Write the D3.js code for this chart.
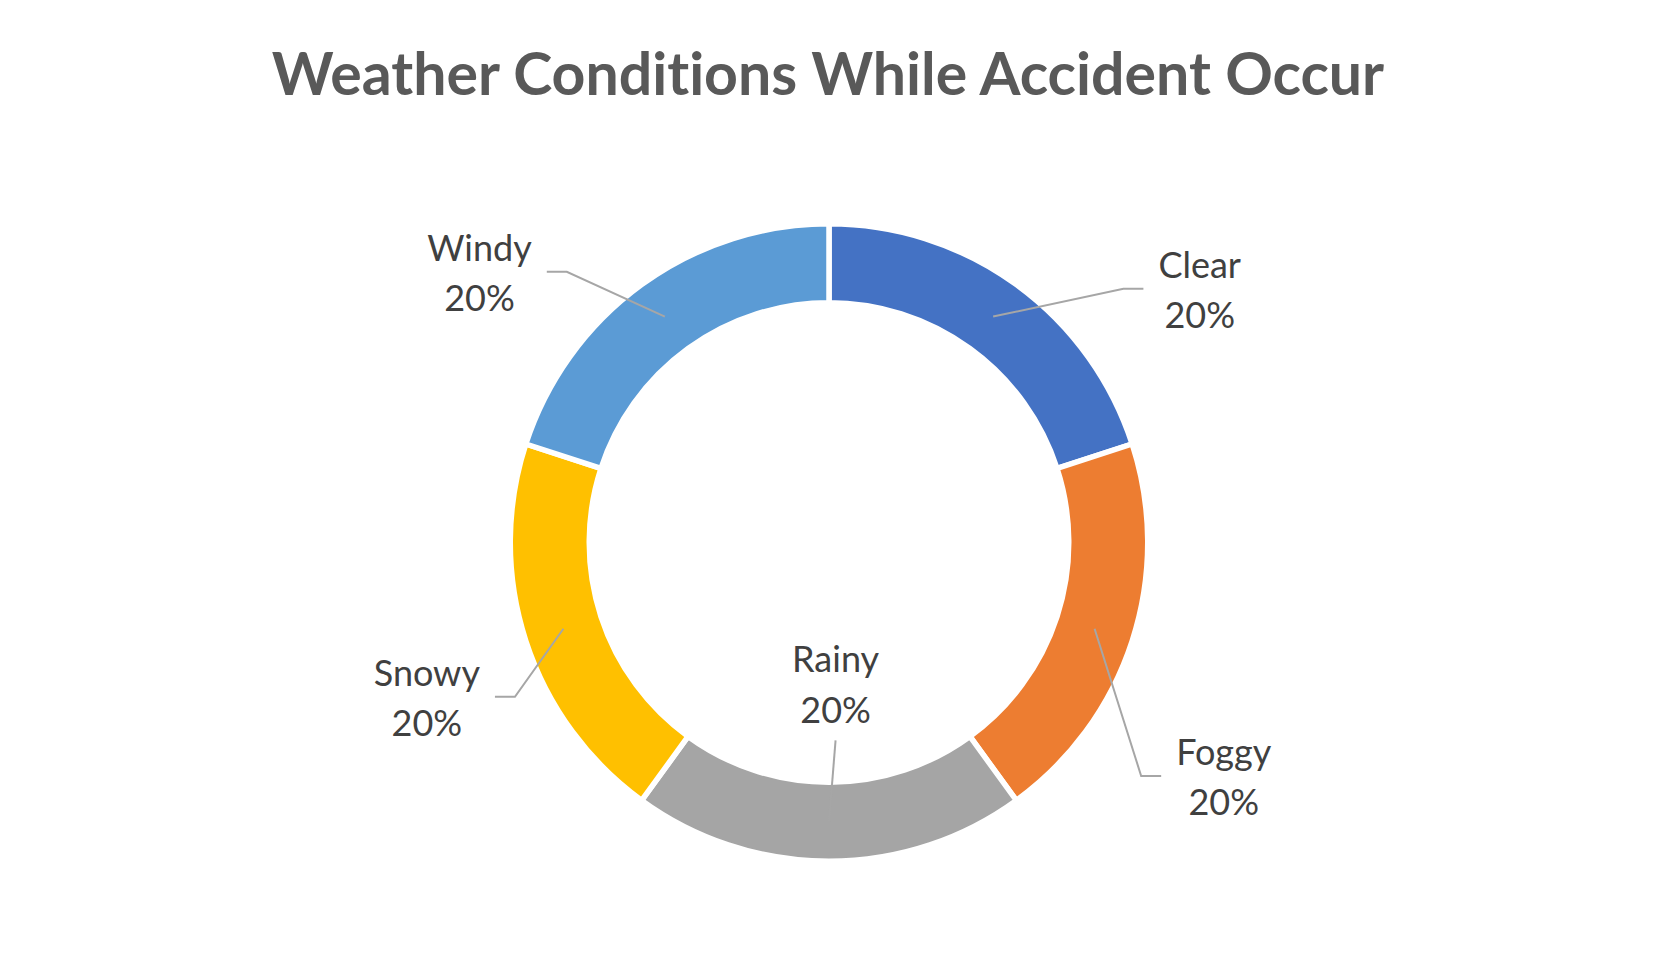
<!DOCTYPE html>
<html>
<head>
<meta charset="utf-8">
<script src="https://cdn.jsdelivr.net/npm/d3@7/dist/d3.min.js"></script>
<style>
  html, body { margin: 0; padding: 0; background: #ffffff; }
  svg { display: block; }
  text { font-variant-ligatures: none; font-feature-settings: "liga" 0; }
</style>
</head>
<body>
<svg id="chart" width="1658" height="965"></svg>
<script>
// ---- data ----
const title = "Weather Conditions While Accident Occur";
const categories = ["Clear", "Foggy", "Rainy", "Snowy", "Windy"];
const values = [20, 20, 20, 20, 20];
const colors = ["#4472C4", "#ED7D31", "#A5A5A5", "#FFC000", "#5B9BD5"];

// ---- label layout (leader-line end, polar around the centre; side of text) ----
const labelAngleDeg = [51.1, 125.1, 178.1, -114.8, -46.2];
const labelRadius   = [404, 406, 198, 368, 391];
const labelSide     = ["right", "right", "above", "left", "left"];

// ---- geometry ----
const W = 1658, H = 965;
const cx = 829, cy = 542.5;
const gap = 5.5;
const outerR = 316 + gap / 2;
const innerR = 242.5 - gap / 2;
const midR = (316 + 242.5) / 2;

const svg = d3.select("#chart");

svg.append("text")
  .attr("x", 828).attr("y", 95)
  .attr("text-anchor", "middle")
  .attr("font-family", "Lato, 'Open Sans', sans-serif")
  .attr("font-weight", 700)
  .attr("font-size", 59)
  .attr("fill", "#595959")
  .text(title);

const data = categories.map((c, i) => ({ name: c, value: values[i], color: colors[i], i }));
const total = d3.sum(values);
const pie = d3.pie().value(d => d.value).sort(null);
const arcs = pie(data);

const arc = d3.arc().innerRadius(innerR).outerRadius(outerR);
const midArc = d3.arc().innerRadius(midR).outerRadius(midR);

const g = svg.append("g").attr("transform", `translate(${cx},${cy})`);

g.selectAll("path.slice")
  .data(arcs)
  .join("path")
  .attr("class", "slice")
  .attr("d", arc)
  .attr("fill", d => d.data.color)
  .attr("stroke", "#ffffff")
  .attr("stroke-width", gap)
  .attr("stroke-linejoin", "miter");

const fmt = d3.format(".0%");
const labelFont = "Lato, 'Open Sans', sans-serif";
const fs = 36;
const lineGap = 50.5;

arcs.forEach((d, i) => {
  const a = labelAngleDeg[i] * Math.PI / 180;
  const r = labelRadius[i];
  const end = [r * Math.sin(a), -r * Math.cos(a)];
  const start = midArc.centroid(d);
  const side = labelSide[i];
  let bend = end.slice();
  if (side === "right") bend = [end[0] - 20, end[1]];
  if (side === "left") bend = [end[0] + 20, end[1]];

  g.append("polyline")
    .attr("points", [start, bend, end].map(p => p.join(",")).join(" "))
    .attr("fill", "none")
    .attr("stroke", "#A6A6A6")
    .attr("stroke-width", 2);

  const lab = g.append("text")
    .attr("font-family", labelFont)
    .attr("font-size", fs)
    .attr("fill", "#404040")
    .attr("text-anchor", "middle");
  const l1 = lab.append("tspan").text(d.data.name);
  const l2 = lab.append("tspan").text(fmt(d.data.value / total));
  const w = Math.max(l1.node().getComputedTextLength(), l2.node().getComputedTextLength());

  let tx, y1;
  if (side === "right") { tx = end[0] + 15 + w / 2; y1 = end[1] - 11; }
  else if (side === "left") { tx = end[0] - 15 - w / 2; y1 = end[1] - 11; }
  else { tx = end[0]; y1 = end[1] - 68; }
  l1.attr("x", tx).attr("y", y1);
  l2.attr("x", tx).attr("y", y1 + lineGap);
});
</script>
</body>
</html>
